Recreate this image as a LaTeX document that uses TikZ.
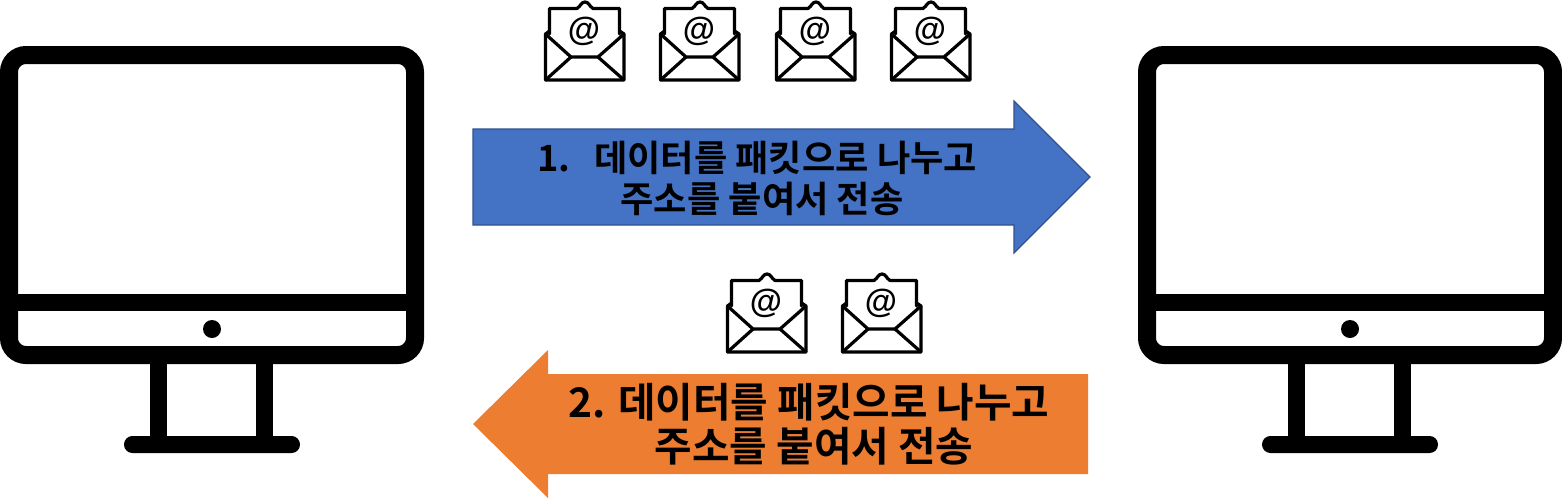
\documentclass[tikz,border=0pt]{standalone}
\usepackage{fontspec}
\newfontfamily\krfont{Noto Sans CJK KR}[BoldFont={* Bold}]
\newfontfamily\atfont{Liberation Sans}
\definecolor{bluefill}{HTML}{4472C4}
\definecolor{blueline}{HTML}{2F528F}
\definecolor{orangefill}{HTML}{ED7D31}
\tikzset{
  x=0.5pt,y=-0.5pt,
  arrowlabel/.style={font=\krfont\fontsize{18.1pt}{23.5pt}\selectfont\bfseries,text=black,inner sep=0pt},
  orangelabel/.style={font=\krfont\fontsize{20.4pt}{26pt}\selectfont\bfseries,text=black,inner sep=0pt},
  monitor/.pic={
    \draw[line width=9pt,rounded corners=8.5pt] (9,55) rectangle (415,355);
    \fill (9,294) rectangle (415,311);
    \fill (212,329) circle[radius=9];
    \fill (150,355) rectangle (167,445);
    \fill (256,355) rectangle (273,445);
    \fill[rounded corners=4.2pt] (124,436) rectangle (300,453);
  },
  mail/.pic={
    \begin{scope}[line width=1.6pt,line join=round,line cap=round]
    \draw (549.5,34) -- (549.5,8.5) -- (577,8.5) .. controls (581,6) and (581,2) .. (585,2) .. controls (589,2) and (589,6) .. (593,8.5) -- (619.5,8.5) -- (619.5,34);
    \draw (549.5,31) -- (545.5,34) -- (545.5,80) -- (624,80) -- (624,34) -- (619.5,31);
    \draw (545.5,34) -- (571,57) -- (598,57) -- (624,34);
    \draw (545.5,80) -- (571,57);
    \draw (598,57) -- (624,80);
    \end{scope}
    \node[font=\atfont\fontsize{16.5pt}{16.5pt}\selectfont\bfseries,inner sep=0pt] at (584,31) {@};
  }
}
\begin{document}
\begin{tikzpicture}
\useasboundingbox (0,0) rectangle (1562,499);
\pic at (0,0) {monitor};
\pic at (1138,0) {monitor};
\pic at (0,0) {mail};
\pic at (115,0) {mail};
\pic at (231,0) {mail};
\pic at (346,0) {mail};
\pic at (182,272) {mail};
\pic at (297,272) {mail};
\draw[fill=bluefill,draw=blueline,line width=0.6pt] (473,129) -- (1014,129) -- (1014,101) -- (1090,177) -- (1014,253) -- (1014,225) -- (473,225) -- cycle;
\fill[orangefill] (1088,374) -- (548,374) -- (548,350) -- (473,424) -- (548,498) -- (548,474) -- (1088,474) -- cycle;
\node[arrowlabel] (t1a) at (757,158) {1.\hspace{12pt}데이터를 패킷으로 나누고};
\node[arrowlabel] (t1b) at (762,199) {주소를 붙여서 전송};
\node[orangelabel] (t2a) at (809,402) {2. 데이터를 패킷으로 나누고};
\node[orangelabel] (t2b) at (814,446) {주소를 붙여서 전송};
\end{tikzpicture}
\end{document}
